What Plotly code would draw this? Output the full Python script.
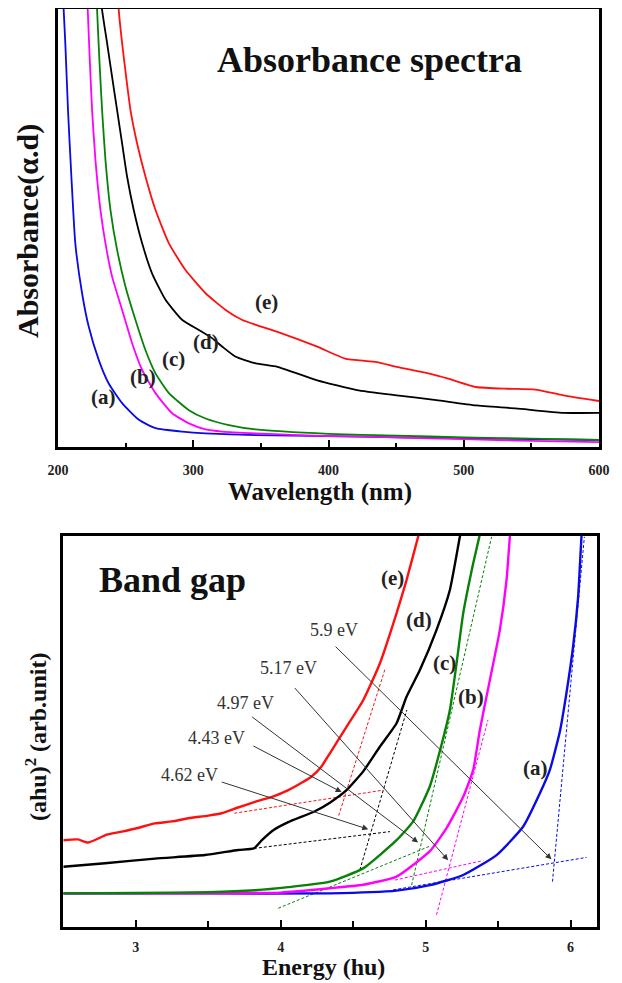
import plotly.graph_objects as go

# ---------------- Top panel: absorbance spectra ----------------
wl_a = [203.5, 204.2, 205.4, 207.4, 209.9, 212.8, 217.8, 222.7, 230.1, 237.5, 247.4, 259.8, 272.1, 291.9, 309, 346, 400, 450, 500, 550, 600]
ab_a = [1.05, 0.998, 0.922, 0.769, 0.617, 0.465, 0.351, 0.275, 0.199, 0.145, 0.10, 0.062, 0.043, 0.035, 0.031, 0.027, 0.025, 0.022, 0.02, 0.018, 0.016]

wl_b = [221.5, 222, 223.5, 225.2, 227.7, 231.4, 235.1, 240, 247.4, 254.8, 262.2, 272.1, 284.4, 296.8, 309.1, 321.5, 346.2, 400, 450, 500, 550, 600]
ab_b = [1.05, 0.998, 0.884, 0.769, 0.655, 0.541, 0.465, 0.389, 0.313, 0.237, 0.176, 0.123, 0.077, 0.054, 0.04, 0.035, 0.031, 0.025, 0.022, 0.018, 0.014, 0.011]

wl_c = [228.2, 228.9, 230.6, 232.6, 235.1, 238.8, 243.7, 249.9, 257.3, 264.7, 272.1, 282, 296.8, 309.1, 326.4, 346.2, 400, 450, 500, 550, 600]
ab_c = [1.05, 0.998, 0.884, 0.769, 0.655, 0.541, 0.45, 0.366, 0.29, 0.221, 0.168, 0.123, 0.084, 0.065, 0.05, 0.04, 0.03, 0.026, 0.022, 0.019, 0.016]

wl_d = [231.5, 232.6, 236.3, 240, 243.7, 247.4, 251.1, 256, 262.2, 269.6, 279.5, 291.9, 304.2, 314.1, 321.5, 331.4, 346.2, 362.3, 391.7, 421, 450.4, 479.7, 509, 538.4, 573.6, 600]
ab_d = [1.05, 0.998, 0.922, 0.845, 0.769, 0.693, 0.617, 0.541, 0.465, 0.396, 0.336, 0.29, 0.267, 0.248, 0.229, 0.206, 0.191, 0.183, 0.152, 0.13, 0.118, 0.107, 0.095, 0.088, 0.078, 0.078]

wl_e = [244, 244.9, 247.4, 250.4, 253.6, 258.5, 264.7, 272.1, 282, 294.3, 309.1, 323.9, 336.3, 346.2, 362.3, 391.7, 412.2, 435.7, 450.4, 473.8, 488.5, 509, 532.5, 553, 573.6, 600]
ab_e = [1.05, 0.998, 0.922, 0.845, 0.769, 0.693, 0.617, 0.541, 0.465, 0.404, 0.351, 0.313, 0.29, 0.279, 0.263, 0.229, 0.202, 0.194, 0.183, 0.168, 0.156, 0.137, 0.133, 0.131, 0.118, 0.105]

top_labels = ["(a)", "(b)", "(c)", "(d)", "(e)"]
top_label_wl = [233.6, 262.5, 285.5, 309.5, 354.5]
top_label_ab = [0.114, 0.160, 0.202, 0.240, 0.331]

# ---------------- Bottom panel: band gap ----------------
en_a = [2.5, 3.5, 4.339, 4.799, 5.029, 5.259, 5.489, 5.673, 5.788, 5.857, 5.926, 5.972, 6.018, 6.052, 6.075, 6.085]
tg_a = [0.086, 0.086, 0.086, 0.093, 0.107, 0.133, 0.184, 0.257, 0.342, 0.402, 0.50, 0.60, 0.72, 0.845, 0.998, 1.04]

en_b = [2.5, 3.5, 4.0, 4.339, 4.569, 4.799, 5.029, 5.144, 5.259, 5.328, 5.374, 5.443, 5.512, 5.558, 5.581, 5.595]
tg_b = [0.086, 0.086, 0.088, 0.099, 0.108, 0.129, 0.194, 0.253, 0.333, 0.402, 0.504, 0.632, 0.76, 0.887, 0.998, 1.04]

en_c = [2.5, 3.0, 3.5, 3.822, 4.052, 4.339, 4.569, 4.799, 4.914, 5.029, 5.098, 5.167, 5.213, 5.259, 5.328, 5.37, 5.39]
tg_c = [0.086, 0.087, 0.089, 0.094, 0.102, 0.116, 0.15, 0.222, 0.27, 0.36, 0.45, 0.555, 0.674, 0.802, 0.93, 0.998, 1.04]

en_d = [2.5, 2.788, 3.132, 3.477, 3.707, 3.815, 3.87, 3.951, 4.052, 4.236, 4.339, 4.454, 4.569, 4.684, 4.799, 4.868, 4.96, 5.075, 5.167, 5.236, 5.26]
tg_d = [0.154, 0.163, 0.175, 0.184, 0.197, 0.201, 0.222, 0.248, 0.268, 0.296, 0.318, 0.35, 0.398, 0.461, 0.521, 0.589, 0.657, 0.76, 0.862, 0.998, 1.04]

en_e = [2.5, 2.6, 2.672, 2.8, 2.903, 3.0, 3.132, 3.25, 3.362, 3.5, 3.592, 3.7, 3.822, 3.95, 4.052, 4.15, 4.213, 4.28, 4.339, 4.454, 4.569, 4.684, 4.799, 4.868, 4.948, 4.985]
tg_e = [0.222, 0.224, 0.216, 0.236, 0.244, 0.252, 0.265, 0.27, 0.278, 0.285, 0.291, 0.305, 0.32, 0.334, 0.35, 0.37, 0.385, 0.41, 0.444, 0.512, 0.58, 0.674, 0.802, 0.887, 0.998, 1.05]

# tangent (extrapolation) lines: [x0, x1], [y0, y1]
fit_base_x = {"a": [4.776, 6.11], "b": [4.788, 5.397], "c": [3.983, 5.03], "d": [3.815, 4.754], "e": [3.68, 4.707]}
fit_base_y = {"a": [0.095, 0.178], "b": [0.12, 0.17], "c": [0.048, 0.207], "d": [0.201, 0.244], "e": [0.291, 0.35]}
fit_edge_x = {"a": [5.875, 6.095], "b": [5.075, 5.43], "c": [4.903, 5.455], "d": [4.546, 4.87], "e": [4.40, 4.72]}
fit_edge_y = {"a": [0.116, 0.998], "b": [0.031, 0.53], "c": [0.107, 0.998], "d": [0.146, 0.555], "e": [0.285, 0.66]}

gap_text = ["5.9 eV", "5.17 eV", "4.97 eV", "4.43 eV", "4.62 eV"]
gap_text_x = [4.368, 4.054, 3.755, 3.557, 3.374]
gap_text_y = [0.76, 0.662, 0.572, 0.483, 0.389]
gap_tail_x = [4.368, 4.088, 3.793, 3.801, 3.583]
gap_tail_y = [0.721, 0.615, 0.54, 0.465, 0.372]
gap_head_x = [5.868, 5.155, 4.948, 4.42, 4.604]
gap_head_y = [0.173, 0.171, 0.216, 0.345, 0.25]

bot_labels = ["(a)", "(b)", "(c)", "(d)", "(e)"]
bot_label_x = [5.757, 5.312, 5.128, 4.953, 4.768]
bot_label_y = [0.406, 0.589, 0.674, 0.785, 0.892]

colors = {"a": "#0a0ae6", "b": "#ff00ff", "c": "#078207", "d": "#000000", "e": "#ff1010"}
SERIF = "Liberation Serif"

# page body has an 8px margin: figure is drawn at (8, 8) in the window
OFF = 8
W, H = 622 - OFF, 983 - OFF


def px_x(sx):
    return (sx - OFF) / W


def px_y(sy):
    return 1 - (sy - OFF) / H


fig = go.Figure()

top_series = [("a", wl_a, ab_a), ("b", wl_b, ab_b), ("c", wl_c, ab_c), ("d", wl_d, ab_d), ("e", wl_e, ab_e)]
for key, xs, ys in top_series:
    fig.add_trace(go.Scatter(x=xs, y=ys, mode="lines",
                             line=dict(color=colors[key], width=1.8, shape="spline", smoothing=0.5),
                             xaxis="x", yaxis="y", showlegend=False, hoverinfo="skip"))

for key in ["a", "b", "c", "d", "e"]:
    fig.add_trace(go.Scatter(x=fit_base_x[key], y=fit_base_y[key], mode="lines",
                             line=dict(color=colors[key], width=1, dash="3px,2px"),
                             xaxis="x2", yaxis="y2", showlegend=False, hoverinfo="skip"))
    fig.add_trace(go.Scatter(x=fit_edge_x[key], y=fit_edge_y[key], mode="lines",
                             line=dict(color=colors[key], width=1, dash="3px,2px"),
                             xaxis="x2", yaxis="y2", showlegend=False, hoverinfo="skip"))

bot_series = [("a", en_a, tg_a), ("b", en_b, tg_b), ("c", en_c, tg_c), ("d", en_d, tg_d), ("e", en_e, tg_e)]
for key, xs, ys in bot_series:
    fig.add_trace(go.Scatter(x=xs, y=ys, mode="lines",
                             line=dict(color=colors[key], width=2.4, shape="spline", smoothing=0.5),
                             xaxis="x2", yaxis="y2", showlegend=False, hoverinfo="skip"))

annotations = []
for t, x, y in zip(top_labels, top_label_wl, top_label_ab):
    annotations.append(dict(x=x, y=y, xref="x", yref="y", text=t, showarrow=False,
                            font=dict(family=SERIF, size=21, color="#222", weight="bold")))
for t, x, y in zip(bot_labels, bot_label_x, bot_label_y):
    annotations.append(dict(x=x, y=y, xref="x2", yref="y2", text=t, showarrow=False,
                            font=dict(family=SERIF, size=21, color="#222", weight="bold")))
for t, tx, ty, ax, ay, hx, hy in zip(gap_text, gap_text_x, gap_text_y, gap_tail_x, gap_tail_y, gap_head_x, gap_head_y):
    annotations.append(dict(x=tx, y=ty, xref="x2", yref="y2", text=t, showarrow=False,
                            font=dict(family=SERIF, size=18, color="#333")))
    annotations.append(dict(x=hx, y=hy, ax=ax, ay=ay, xref="x2", yref="y2", axref="x2", ayref="y2",
                            text="", showarrow=True, arrowhead=2, arrowsize=1.2, arrowwidth=1,
                            arrowcolor="#333"))


def paper_text(sx, sy, text, size, angle=0):
    return dict(x=px_x(sx), y=px_y(sy), xref="paper", yref="paper", text=text, showarrow=False,
                xanchor="center", yanchor="middle", textangle=angle,
                font=dict(family=SERIF, size=size, color="#111", weight="bold"))


annotations += [
    paper_text(369, 60, "Absorbance spectra", 36),
    paper_text(172, 580, "Band gap", 36),
    paper_text(28, 231, "Absorbance(α.d)", 30, -90),
    paper_text(320, 492, "Wavelength (nm)", 25),
    paper_text(36, 737, "(ahu)<sup>2</sup> (arb.unit)", 24, -90),
    paper_text(323, 967, "Energy (hu)", 24),
]

axis_common = dict(showline=True, mirror=True, linecolor="black", linewidth=2.5, showgrid=False,
                   zeroline=False, automargin=False)

fig.update_layout(
    width=W, height=H, autosize=False,
    margin=dict(l=0, r=0, t=0, b=0, autoexpand=False),
    paper_bgcolor="white", plot_bgcolor="white",
    showlegend=False,
    xaxis=dict(domain=[px_x(58), px_x(599)], anchor="y", range=[200, 600], tickvals=[200, 300, 400, 500, 600],
               ticks="inside", ticklen=7, tickwidth=2, tickcolor="black",
               minor=dict(tickvals=[250, 350, 450, 550], ticks="inside", ticklen=4, tickwidth=2, tickcolor="black"),
               tickfont=dict(family=SERIF, size=14, color="#222", weight="bold"), ticklabelstandoff=8,
               **axis_common),
    yaxis=dict(domain=[px_y(447), px_y(9)], anchor="x", range=[0, 1], showticklabels=False, ticks="",
               **axis_common),
    xaxis2=dict(domain=[px_x(63.3), px_x(596.7)], anchor="y2", range=[2.5, 6.18], tickvals=[3, 4, 5, 6],
                ticks="inside", ticklen=7, tickwidth=2, tickcolor="black",
                minor=dict(tickvals=[3.5, 4.5, 5.5], ticks="inside", ticklen=6, tickwidth=2, tickcolor="black"),
                tickfont=dict(family=SERIF, size=14, color="#222", weight="bold"), ticklabelstandoff=5,
                **axis_common),
    yaxis2=dict(domain=[px_y(927), px_y(536)], anchor="x2", range=[0, 1], showticklabels=False, ticks="",
                **axis_common),
    annotations=annotations,
)

fig.write_html("out.html")
